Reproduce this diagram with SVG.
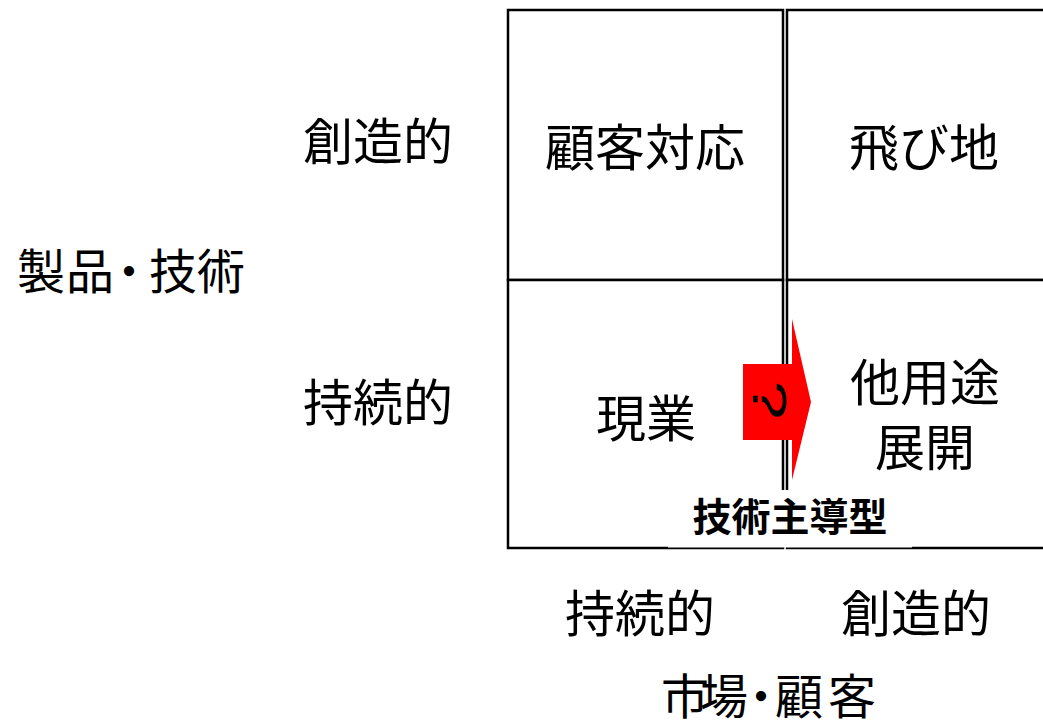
<svg xmlns="http://www.w3.org/2000/svg" width="1043" height="725" viewBox="0 0 1043 725">
<style>
.t{font-family:"Noto Sans CJK JP","Noto Sans CJK SC",sans-serif;font-size:50px;fill:#000;text-anchor:middle}
.s{font-family:"Noto Sans CJK JP","Noto Sans CJK SC",sans-serif;font-size:48px;fill:#000}
.b{font-family:"Noto Sans CJK JP","Noto Sans CJK SC",sans-serif;font-size:39px;font-weight:bold;fill:#000;text-anchor:middle}
.cell{fill:#fff;stroke:#000;stroke-width:2.5}
</style>
<rect width="1043" height="725" fill="#fff"/>
<g id="cells">
<g id="cell-tl"><rect class="cell" x="508" y="10" width="275" height="270"/><text class="t" x="645" y="166">顧客対応</text></g>
<g id="cell-tr"><rect class="cell" x="787" y="10" width="270" height="270"/><text class="t" x="924" y="166">飛び地</text></g>
<g id="cell-bl"><rect class="cell" x="508" y="280" width="275" height="268"/><text class="t" x="646" y="437">現業</text></g>
<g id="cell-br"><rect class="cell" x="787" y="280" width="270" height="268"/><text class="t" x="925" y="401">他用途</text><text class="t" x="925" y="466">展開</text></g>
</g>
<g id="axis-labels">
<text class="t" x="378" y="160">創造的</text>
<text class="t" x="378" y="421">持続的</text>
<text class="s" y="289" x="17 66 105 149 197">製品・技術</text>
<text class="t" x="640" y="632">持続的</text>
<text class="t" x="916" y="632">創造的</text>
<text class="s" y="714" x="661 700 737 775 828">市場・顧客</text>
</g>
<g id="connectors">
<g id="arrow">
<polygon points="743,364 792,364 792,319 811,402 792,480 792,440 743,440" fill="#ff0000"/>
<g transform="translate(770 400) rotate(90) scale(1.45 1)">
<text x="0" y="17" font-family="Liberation Sans,sans-serif" font-size="48" text-anchor="middle" fill="#000">?</text>
</g>
</g>
</g>
<g id="label">
<rect x="668" y="490" width="244" height="57.5" fill="#fff"/>
<text class="b" x="790" y="531">技術主導型</text>
</g>
</svg>
